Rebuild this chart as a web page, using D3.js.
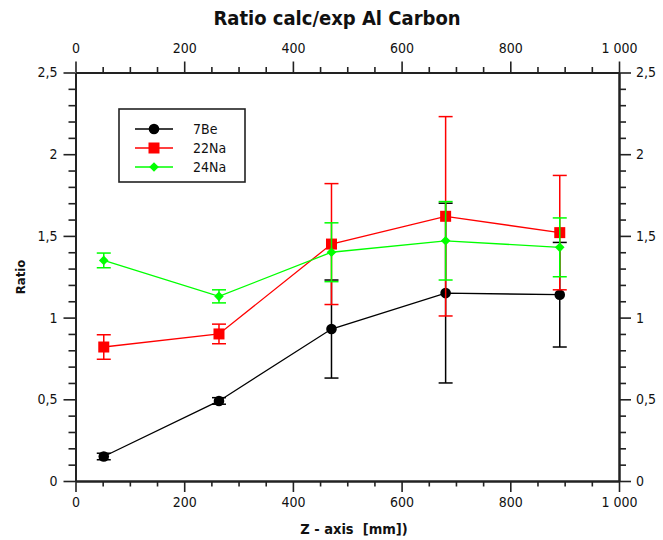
<!DOCTYPE html>
<html>
<head>
<meta charset="utf-8">
<script src="https://cdn.jsdelivr.net/npm/d3@7"></script>
<style>
  html, body { margin: 0; padding: 0; background: #fff; }
  svg text { font-family: "DejaVu Sans Condensed", "DejaVu Sans", sans-serif; }
</style>
</head>
<body>
<svg id="chart" width="663" height="540"></svg>
<script>
// Position along the Z axis (mm)
const zPositions = [52, 264, 471, 681, 891];

// Calculated / experimental ratio per nuclide, with symmetric uncertainties
const be7Ratio   = [0.15, 0.49, 0.93, 1.15, 1.14];
const be7Err     = [0.02, 0.02, 0.30, 0.55, 0.32];
const na22Ratio  = [0.82, 0.90, 1.45, 1.62, 1.52];
const na22Err    = [0.075, 0.06, 0.37, 0.61, 0.35];
const na24Ratio  = [1.35, 1.13, 1.40, 1.47, 1.43];
const na24Err    = [0.045, 0.04, 0.18, 0.24, 0.18];

const seriesNames = ["7Be", "22Na", "24Na"];
const xMajorTicks = [0, 200, 400, 600, 800, 1000];
const yMajorTicks = [0, 0.5, 1, 1.5, 2, 2.5];

const series = [
  { name: seriesNames[0], y: be7Ratio,  e: be7Err,  color: "#000000", shape: "circle" },
  { name: seriesNames[1], y: na22Ratio, e: na22Err, color: "#ff0000", shape: "square" },
  { name: seriesNames[2], y: na24Ratio, e: na24Err, color: "#00ff00", shape: "diamond" }
];

const svg = d3.select("#chart");
const m = { left: 75.5, right: 619, top: 72.5, bottom: 481 };

const x = d3.scaleLinear().domain([0, 1000]).range([m.left, m.right]);
const y = d3.scaleLinear().domain([0, 2.5]).range([m.bottom, m.top]);

const fmtX = d => d === 1000 ? "1 000" : String(d);
const fmtY = d => String(d).replace(".", ",");

const xMinor = d3.range(0, 1001, 50).filter(v => v % 200 !== 0);
const yMinor = d3.range(0, 26, 1).map(v => v / 10).filter(v => Math.round(v * 10) % 5 !== 0);

function drawAxis(gen, transform, labels) {
  const g = svg.append("g").attr("transform", transform).call(gen);
  g.select(".domain").attr("stroke", "#222").attr("stroke-width", 2);
  g.selectAll(".tick line").attr("stroke", "#222").attr("stroke-width", 1.6);
  g.selectAll("text").attr("font-size", 14).attr("fill", "#111");
  if (!labels) g.selectAll("text").remove();
  return g;
}

// Minor ticks (unlabelled)
drawAxis(d3.axisBottom(x).tickValues(xMinor).tickSize(5.5).tickSizeOuter(0), `translate(0,${m.bottom})`, false);
drawAxis(d3.axisTop(x).tickValues(xMinor).tickSize(5.5).tickSizeOuter(0), `translate(0,${m.top})`, false);
drawAxis(d3.axisLeft(y).tickValues(yMinor).tickSize(7).tickSizeOuter(0), `translate(${m.left},0)`, false);
drawAxis(d3.axisRight(y).tickValues(yMinor).tickSize(7).tickSizeOuter(0), `translate(${m.right},0)`, false);

// Major ticks with labels on all four sides
drawAxis(d3.axisBottom(x).tickValues(xMajorTicks).tickFormat(fmtX).tickSize(11).tickSizeOuter(0).tickPadding(5), `translate(0,${m.bottom})`, true);
drawAxis(d3.axisTop(x).tickValues(xMajorTicks).tickFormat(fmtX).tickSize(11).tickSizeOuter(0).tickPadding(9), `translate(0,${m.top})`, true);
drawAxis(d3.axisLeft(y).tickValues(yMajorTicks).tickFormat(fmtY).tickSize(12).tickSizeOuter(0).tickPadding(6), `translate(${m.left},0)`, true);
drawAxis(d3.axisRight(y).tickValues(yMajorTicks).tickFormat(fmtY).tickSize(12).tickSizeOuter(0).tickPadding(5), `translate(${m.right},0)`, true);

// Markers
function marker(g, shape, cx, cy, color) {
  if (shape === "circle") {
    g.append("circle").attr("cx", cx).attr("cy", cy).attr("r", 5.3).attr("fill", color);
  } else if (shape === "square") {
    g.append("rect").attr("x", cx - 5.5).attr("y", cy - 5.5).attr("width", 11).attr("height", 11).attr("fill", color);
  } else {
    const s = 4.8;
    g.append("path").attr("d", `M${cx},${cy - s}L${cx + s},${cy}L${cx},${cy + s}L${cx - s},${cy}Z`).attr("fill", color);
  }
}

const line = d3.line().x(d => x(d[0])).y(d => y(d[1]));

series.forEach(s => {
  const g = svg.append("g");
  const pts = zPositions.map((z, i) => [z, s.y[i], s.e[i]]);
  g.append("path").datum(pts).attr("d", line).attr("fill", "none")
    .attr("stroke", s.color).attr("stroke-width", 1.3);
  pts.forEach(([z, v, e]) => {
    const cx = x(z), top = y(v + e), bot = y(v - e);
    g.append("line").attr("x1", cx).attr("x2", cx).attr("y1", top).attr("y2", bot)
      .attr("stroke", s.color).attr("stroke-width", 1.5);
    [top, bot].forEach(yy => g.append("line").attr("x1", cx - 7).attr("x2", cx + 7)
      .attr("y1", yy).attr("y2", yy).attr("stroke", s.color).attr("stroke-width", 1.5));
    marker(g, s.shape, cx, y(v), s.color);
  });
});

// Legend
const lg = svg.append("g");
lg.append("rect").attr("x", 119).attr("y", 109).attr("width", 126).attr("height", 73)
  .attr("fill", "#fff").attr("stroke", "#222").attr("stroke-width", 1.6);
series.forEach((s, i) => {
  const yy = 129 + i * 19;
  lg.append("line").attr("x1", 135).attr("x2", 173).attr("y1", yy).attr("y2", yy)
    .attr("stroke", s.color).attr("stroke-width", 1.3);
  marker(lg, s.shape, 154, yy, s.color);
  lg.append("text").attr("x", 193).attr("y", yy + 5).attr("font-size", 14)
    .attr("fill", "#111").text(s.name);
});

// Titles
svg.append("text").attr("x", 337).attr("y", 25).attr("text-anchor", "middle")
  .attr("font-size", 20).attr("font-weight", "bold").attr("fill", "#111")
  .text("Ratio calc/exp Al Carbon");
svg.append("text").attr("x", 354).attr("y", 534).attr("text-anchor", "middle")
  .attr("font-size", 14.5).attr("font-weight", "bold").attr("fill", "#111")
  .attr("xml:space", "preserve").text("Z - axis  [mm])");
svg.append("text").attr("transform", "translate(25,277) rotate(-90)").attr("text-anchor", "middle")
  .attr("font-size", 13).attr("font-weight", "bold").attr("fill", "#111")
  .text("Ratio");
</script>
</body>
</html>
